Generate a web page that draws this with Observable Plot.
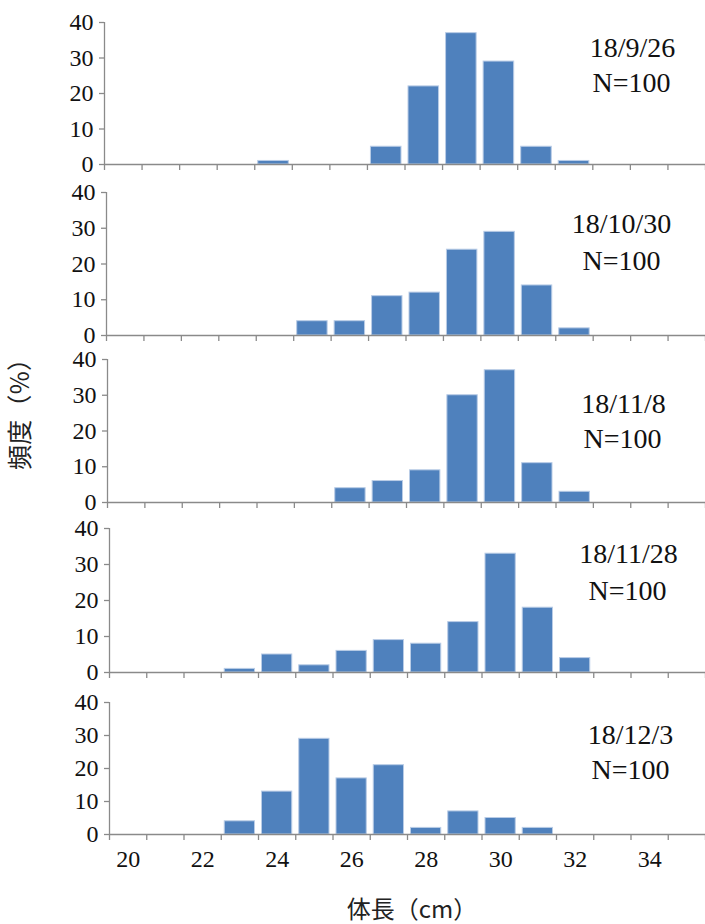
<!DOCTYPE html>
<html>
<head>
<meta charset="utf-8">
<script src="https://cdn.jsdelivr.net/npm/d3@7"></script>
<script src="https://cdn.jsdelivr.net/npm/@observablehq/plot@0.6"></script>
<style>
  body { margin: 0; background: #fff; }
  #wrap { position: relative; width: 705px; height: 924px; overflow: hidden; background: #fff; }
  #wrap svg { position: absolute; left: 0; }
</style>
</head>
<body>
<div id="wrap"></div>
<script>
// ---- data ----
const lengths = [20, 21, 22, 23, 24, 25, 26, 27, 28, 29, 30, 31, 32, 33, 34, 35];
const dates = ["18/9/26", "18/10/30", "18/11/8", "18/11/28", "18/12/3"];
const sampleSizes = ["N=100", "N=100", "N=100", "N=100", "N=100"];
const freq1 = [0, 0, 0, 0, 1, 0, 0, 5, 22, 37, 29, 5, 1, 0, 0, 0];
const freq2 = [0, 0, 0, 0, 0, 4, 4, 11, 12, 24, 29, 14, 2, 0, 0, 0];
const freq3 = [0, 0, 0, 0, 0, 0, 4, 6, 9, 30, 37, 11, 3, 0, 0, 0];
const freq4 = [0, 0, 0, 1, 5, 2, 6, 9, 8, 14, 33, 18, 4, 0, 0, 0];
const freq5 = [0, 0, 0, 4, 13, 29, 17, 21, 2, 7, 5, 2, 0, 0, 0, 0];
const yTicks = [0, 10, 20, 30, 40];
const xTickLabels = [20, 22, 24, 26, 28, 30, 32, 34];
const yLabel = "頻度（%）";
const xLabel = "体長（cm）";

const series = [freq1, freq2, freq3, freq4, freq5];

// ---- layout (pixel positions of each panel) ----
const layout = [
  {top: 22,  bottom: 164, ml: 104, dx: 632, dy: 48,  nx: 631, ny: 83},
  {top: 192, bottom: 335, ml: 106, dx: 621, dy: 224, nx: 621, ny: 261},
  {top: 359, bottom: 502, ml: 107, dx: 623, dy: 404, nx: 622, ny: 439},
  {top: 528, bottom: 672, ml: 109, dx: 628, dy: 554, nx: 627, ny: 591},
  {top: 702, bottom: 834, ml: 109, dx: 630, dy: 735, nx: 630, ny: 770}
];

const wrap = document.getElementById("wrap");
const axisGrey = "#8a8a8a";
const serif = "Liberation Serif";
const ink = "#111";

series.forEach((freq, i) => {
  const L = layout[i];
  const isLast = i === series.length - 1;
  const mt = 14, mb = isLast ? 44 : 12;
  const data = lengths.map((len, j) => ({len, pct: freq[j]})).filter(d => d.pct > 0);
  const chart = Plot.plot({
    width: 705,
    height: mt + (L.bottom - L.top) + mb,
    marginLeft: L.ml,
    marginRight: 0,
    marginTop: mt,
    marginBottom: mb,
    x: {domain: [19.5, 35.5]},
    y: {domain: [0, 40]},
    style: {background: "transparent", overflow: "visible"},
    marks: [
      Plot.rectY(data, {
        x1: d => d.len - 0.5, x2: d => d.len + 0.5, y1: 0, y2: "pct",
        insetLeft: 3.5, insetRight: 3.5,
        fill: "#4F81BD", stroke: "#b9cce6", strokeWidth: 1
      }),
      // ticks only (labels drawn as text below)
      Plot.axisY({ticks: yTicks, tickSize: 5, tickFormat: () => "", stroke: axisGrey, strokeWidth: 1.3, label: null}),
      Plot.axisX({ticks: d3.range(19.5, 36, 1), tickSize: 6, tickFormat: () => "", stroke: axisGrey, strokeWidth: 1.3, label: null}),
      Plot.ruleX([19.5], {stroke: axisGrey, strokeWidth: 1.3}),
      Plot.ruleY([0], {stroke: axisGrey, strokeWidth: 1.3}),
      Plot.text(yTicks, {x: 19.5, y: d => d, text: d => String(d), dx: -11, textAnchor: "end", lineAnchor: "middle", fontFamily: serif, fontSize: 24, fill: ink}),
      isLast ? Plot.text(xTickLabels, {x: d => d, y: 0, text: d => String(d), dy: 25, textAnchor: "middle", lineAnchor: "middle", fontFamily: serif, fontSize: 24, fill: ink}) : null,
      Plot.text([dates[i]], {frameAnchor: "top-left", dx: L.dx - L.ml, dy: L.dy - L.top, textAnchor: "middle", lineAnchor: "middle", fontFamily: serif, fontSize: 28, fill: ink}),
      Plot.text([sampleSizes[i]], {frameAnchor: "top-left", dx: L.nx - L.ml, dy: L.ny - L.top, textAnchor: "middle", lineAnchor: "middle", fontFamily: serif, fontSize: 28, fill: ink})
    ]
  });
  chart.style.top = (L.top - mt) + "px";
  wrap.appendChild(chart);
});

// axis titles in an overlay svg
const ns = "http://www.w3.org/2000/svg";
const over = document.createElementNS(ns, "svg");
over.setAttribute("width", 705);
over.setAttribute("height", 924);
over.style.top = "0px";
over.style.pointerEvents = "none";
function addText(str, x, y, size, rot, len) {
  const t = document.createElementNS(ns, "text");
  t.textContent = str;
  t.setAttribute("x", 0);
  t.setAttribute("y", 0);
  t.setAttribute("text-anchor", "middle");
  t.setAttribute("dominant-baseline", "central");
  t.setAttribute("font-family", "Noto Sans CJK JP");
  t.setAttribute("font-size", size);
  t.setAttribute("fill", "#222");
  if (len) {
    t.setAttribute("textLength", len);
    t.setAttribute("lengthAdjust", "spacing");
  }
  t.setAttribute("transform", `translate(${x},${y}) rotate(${rot})`);
  over.appendChild(t);
}
addText(yLabel, 18, 408, 25, -90, 124);
addText(xLabel, 412, 907, 24, 0, null);
wrap.appendChild(over);
</script>
</body>
</html>
